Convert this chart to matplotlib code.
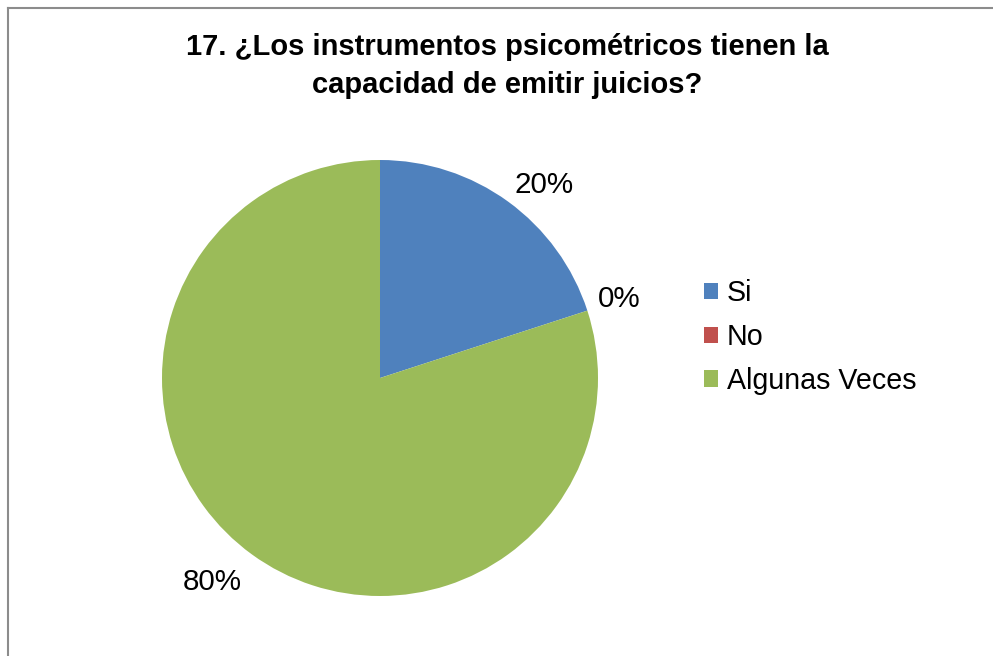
import numpy as np
import matplotlib
matplotlib.use('Agg')
import matplotlib.pyplot as plt
from matplotlib.lines import Line2D

plt.rcParams['font.family'] = ['Liberation Sans', 'DejaVu Sans']

# Data
categorias = ['Si', 'No', 'Algunas Veces']
valores = [20, 0, 80]
colores = ['#4F81BD', '#C0504D', '#9BBB59']
titulo = '17. ¿Los instrumentos psicométricos tienen la\ncapacidad de emitir juicios?'

W, H = 993, 656
fig = plt.figure(figsize=(W / 100, H / 100), dpi=100)
fig.patch.set_facecolor('white')

# Chart frame (cropped on right and bottom): top and left edges only
fig.add_artist(Line2D([8 / W, 1.0], [1 - 8 / H, 1 - 8 / H], color='#8c8c8c',
                      lw=1.5, transform=fig.transFigure))
fig.add_artist(Line2D([8 / W, 8 / W], [0.0, 1 - 8 / H], color='#8c8c8c',
                      lw=1.5, transform=fig.transFigure))

# Pie axes: center (380, 378), radius 218 px
cx, cy, r = 380, 378, 218
ax = fig.add_axes([(cx - r) / W, (H - cy - r) / H, 2 * r / W, 2 * r / H])
wedges, textos = ax.pie(valores, colors=colores, startangle=90,
                        counterclock=False, radius=1,
                        wedgeprops={'linewidth': 0})
ax.set_xlim(-1, 1)
ax.set_ylim(-1, 1)
ax.set_aspect('equal')
ax.axis('off')

# Percent labels at the outside end of each slice
total = sum(valores)
for w, v in zip(wedges, valores):
    ang = np.deg2rad((w.theta1 + w.theta2) / 2)
    c, s = np.cos(ang), np.sin(ang)
    ha = 'left' if c > 0.1 else ('right' if c < -0.1 else 'center')
    va = 'baseline' if s > 0 else ('top' if s < -0.5 else 'center')
    d = 1.05 if va != 'top' else 1.08
    ax.text(d * c, d * s, f'{v / total * 100:.0f}%', ha=ha, va=va,
            fontsize=21.3, color='black')

# Title
fig.text(507 / W, 1 - 66 / H, titulo, ha='center', va='center',
         fontsize=21, fontweight='bold', linespacing=1.45)

# Legend
fig.legend(wedges, categorias, loc='center left',
           bbox_to_anchor=(704 / W, 1 - 337 / H), frameon=False,
           fontsize=20.6, handlelength=0.5, handleheight=0.5,
           handletextpad=0.3, labelspacing=0.55, borderpad=0,
           borderaxespad=0)

fig.savefig('out.png', dpi=100, facecolor='white')
